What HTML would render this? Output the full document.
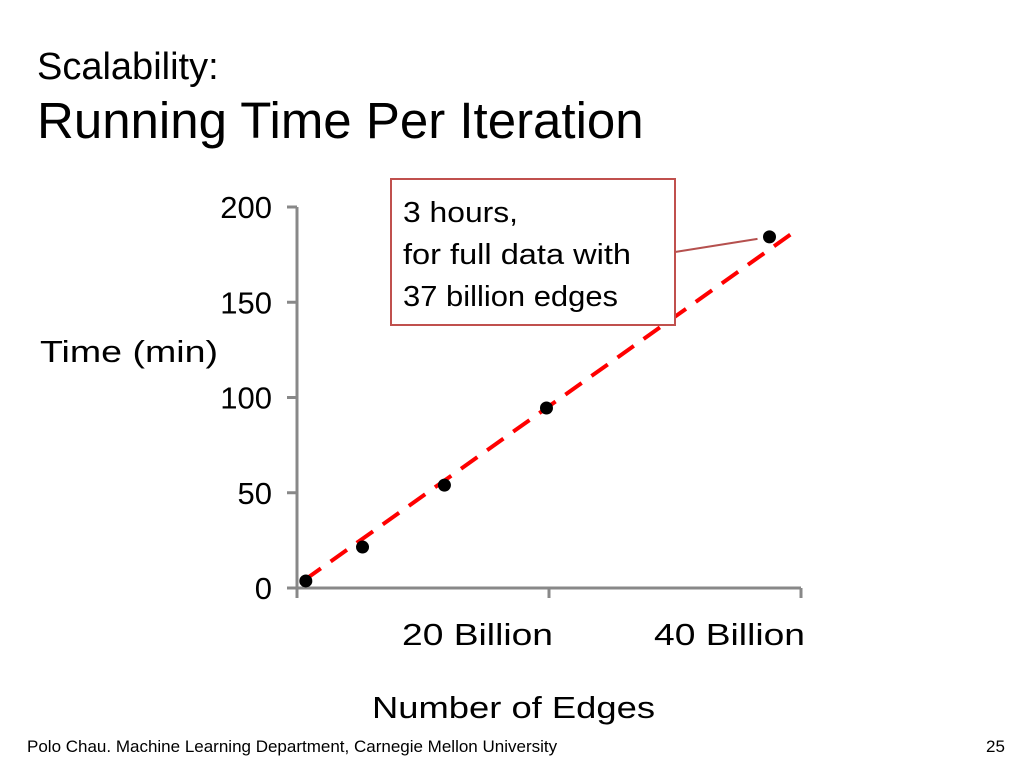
<!DOCTYPE html>
<html><head><meta charset="utf-8"><style>
body{margin:0;width:1024px;height:768px;background:#fff;overflow:hidden;font-family:"Liberation Sans",sans-serif;position:relative}
.t{position:absolute;white-space:nowrap;color:#000}
</style></head><body>
<div class="t" style="left:37px;top:46px;font-size:38px">Scalability:</div>
<div class="t" style="left:37px;top:91px;font-size:51px">Running Time Per Iteration</div>
<div class="t" style="left:27px;top:737px;font-size:17px">Polo Chau. Machine Learning Department, Carnegie Mellon University</div>
<div class="t" style="left:986px;top:737px;font-size:17px">25</div>
<svg id="chart" width="1024" height="768" style="position:absolute;left:0;top:0" font-family="Liberation Sans, sans-serif"></svg>
<script>
const xVals=[0.7,5.2,11.7,19.8,37.5];
const yVals=[3.7,21.5,54,94.5,184.3];
const fitX=[0.6,39.9];
const fitY=[4.2,189];
const yTicks=[0,50,100,150,200];
const xTicks=[20,40];
const xTickLabels=["20 Billion","40 Billion"];
const NS="http://www.w3.org/2000/svg";
const svg=document.getElementById('chart');
const X=v=>297+v*12.6;
const Y=v=>588-v*1.905;
function mk(tag,attrs,txt){const e=document.createElementNS(NS,tag);for(const k in attrs)e.setAttribute(k,attrs[k]);if(txt!==undefined)e.textContent=txt;svg.appendChild(e);return e;}
let e;
e=mk('line',{x1:297,y1:Y(200),x2:297,y2:598,stroke:'#888','stroke-width':3});


e=mk('line',{x1:297,y1:588,x2:X(40),y2:588,stroke:'#888','stroke-width':3});


yTicks.forEach(v=>{
 e=mk('line',{x1:287,y1:Y(v),x2:297,y2:Y(v),stroke:'#888','stroke-width':3});
 
 
 e=mk('text',{x:272,y:Y(v)+11,'text-anchor':'end','font-size':31},String(v));
 
 
});
xTicks.forEach((v,i)=>{
 e=mk('line',{x1:X(v),y1:588,x2:X(v),y2:598,stroke:'#888','stroke-width':3});
 
 
 e=mk('text',{x:X(v)-147,y:645,'font-size':31,textLength:151,lengthAdjust:'spacingAndGlyphs'},xTickLabels[i]);
 
 
});
e=mk('text',{x:40,y:362,'font-size':31,textLength:178,lengthAdjust:'spacingAndGlyphs'},'Time (min)');


e=mk('text',{x:372,y:718,'font-size':31,textLength:283,lengthAdjust:'spacingAndGlyphs'},'Number of Edges');


e=mk('line',{x1:X(fitX[0]),y1:Y(fitY[0]),x2:X(fitX[1]),y2:Y(fitY[1]),stroke:'#f00','stroke-width':4,'stroke-dasharray':'20,12'});


xVals.forEach((v,i)=>{
 e=mk('circle',{cx:X(v),cy:Y(yVals[i]),r:6.5,fill:'#000'});
 
 
});
e=mk('line',{x1:675,y1:252,x2:X(xVals[4])-12,y2:Y(yVals[4])+2,stroke:'#b5504e','stroke-width':2});


e=mk('rect',{x:391,y:179,width:284,height:146,fill:'#fff',stroke:'#c0504d','stroke-width':2});


const cl=[["3 hours,",115],["for full data with",228],["37 billion edges",215]];
cl.forEach((s,i)=>{
 e=mk('text',{x:403,y:222+i*42,'font-size':29,textLength:s[1],lengthAdjust:'spacingAndGlyphs'},s[0]);
 
 
});
</script>
</body></html>
